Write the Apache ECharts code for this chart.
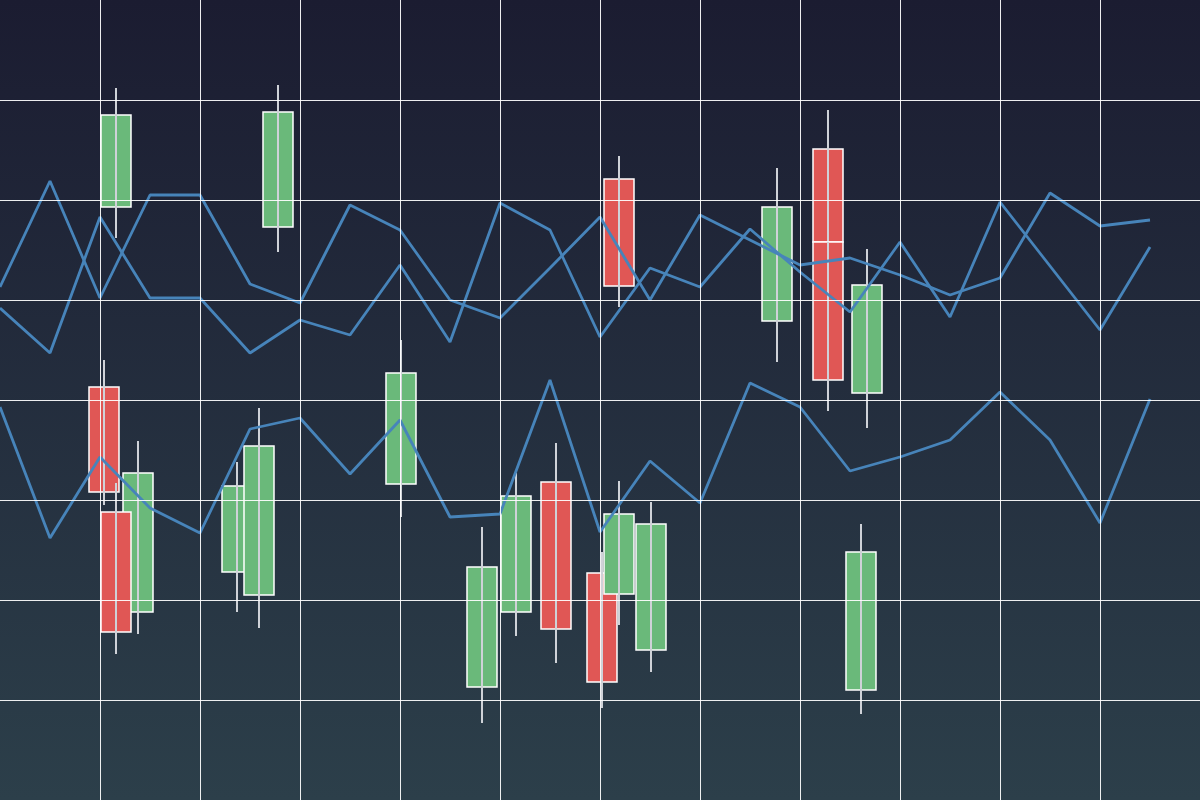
<!DOCTYPE html>
<html>
<head>
<meta charset="utf-8">
<script src="https://cdn.jsdelivr.net/npm/echarts@6/dist/echarts.min.js"></script>
<style>
html,body{margin:0;padding:0;width:1200px;height:800px;overflow:hidden;}
#chart{width:1200px;height:800px;}
</style>
</head>
<body>
<div id="chart"></div>
<script>
// Line series (x positions and values)
const lineX = [0,50,100,150,200,250,300,350,400,450,500,550,600,650,700,750,800,850,900,950,1000,1050,1100,1150];
const lineA = [513,619,502,605,605,516,497,595,570,500,482,532,583,500,585,560,535,542,525,505,522,607,574,580];
const lineB = [492,447,583,502,502,447,480,465,535,458,597,570,463,532,513,571,528,488,558,483,598,534,470,553];
const lineC = [393,262,343,292,267,371,382,326,380,283,286,420,268,339,297,417,393,329,343,360,408,360,277,401];

// Candles
const candleX     = [116,278,619,777,828,828,867,104,138,116,237,259,401,482,516,556,602,619,651,861];
const candleOpen  = [593,573,621,479,651,558,407,413,188,288,228,205,316,113,188,318,227,206,150,110];
const candleClose = [685,688,514,593,558,420,515,308,327,168,314,354,427,233,304,171,118,286,276,248];
const candleLow   = [562,548,493,438,558,389,372,295,166,146,188,172,283, 77,164,137, 92,175,128, 86];
const candleHigh  = [712,715,644,632,690,558,551,440,359,317,338,392,460,273,327,357,248,319,298,276];

const BODY_W = 30;
const UP = '#6ab97a', DOWN = '#e05755', WICK = '#cfd2d8', LINE = '#4784ba';

const candleData = candleX.map((x, i) => [x, candleOpen[i], candleClose[i], candleLow[i], candleHigh[i]]);
const mk = arr => lineX.map((x, i) => [x, arr[i]]);

const chart = echarts.init(document.getElementById('chart'));
const axisCommon = {
  type: 'value',
  z: 10,
  axisLine: {show: false},
  axisTick: {show: false},
  axisLabel: {show: false},
  splitLine: {show: true, showMinLine: false, showMaxLine: false, lineStyle: {color: 'rgba(255,255,255,0.92)', width: 1}}
};
const lineSeries = arr => ({
  type: 'line', data: mk(arr), showSymbol: false, symbol: 'none', silent: true,
  lineStyle: {color: LINE, width: 2.8}, z: 3, animation: false
});
chart.setOption({
  animation: false,
  backgroundColor: {
    type: 'linear', x: 0, y: 0, x2: 0, y2: 1,
    colorStops: [{offset: 0, color: '#1b1c31'}, {offset: 1, color: '#2c3f4a'}]
  },
  grid: {left: 0, right: 0, top: 0, bottom: 0, containLabel: false},
  xAxis: Object.assign({}, axisCommon, {min: 0, max: 1200, interval: 100}),
  yAxis: Object.assign({}, axisCommon, {min: 0, max: 800, interval: 100}),
  series: [
    {
      type: 'custom',
      data: candleData,
      encode: {x: 0, y: [1, 2, 3, 4]},
      z: 2,
      renderItem: function (params, api) {
        const x = api.value(0), o = api.value(1), c = api.value(2), l = api.value(3), h = api.value(4);
        const pO = api.coord([x, o]), pC = api.coord([x, c]);
        const pL = api.coord([x, l]), pH = api.coord([x, h]);
        const w = api.size([BODY_W, 0])[0];
        const top = Math.min(pO[1], pC[1]);
        return {
          type: 'group',
          children: [
            {type: 'rect', shape: {x: pO[0] - w / 2, y: top, width: w, height: Math.abs(pO[1] - pC[1])},
             style: {fill: c > o ? UP : DOWN, stroke: '#ffffff', lineWidth: 1.5}},
            {type: 'line', shape: {x1: pH[0], y1: pH[1], x2: pL[0], y2: pL[1]},
             style: {stroke: WICK, lineWidth: 2}}
          ]
        };
      }
    },
    lineSeries(lineA),
    lineSeries(lineB),
    lineSeries(lineC)
  ]
});
</script>
</body>
</html>
